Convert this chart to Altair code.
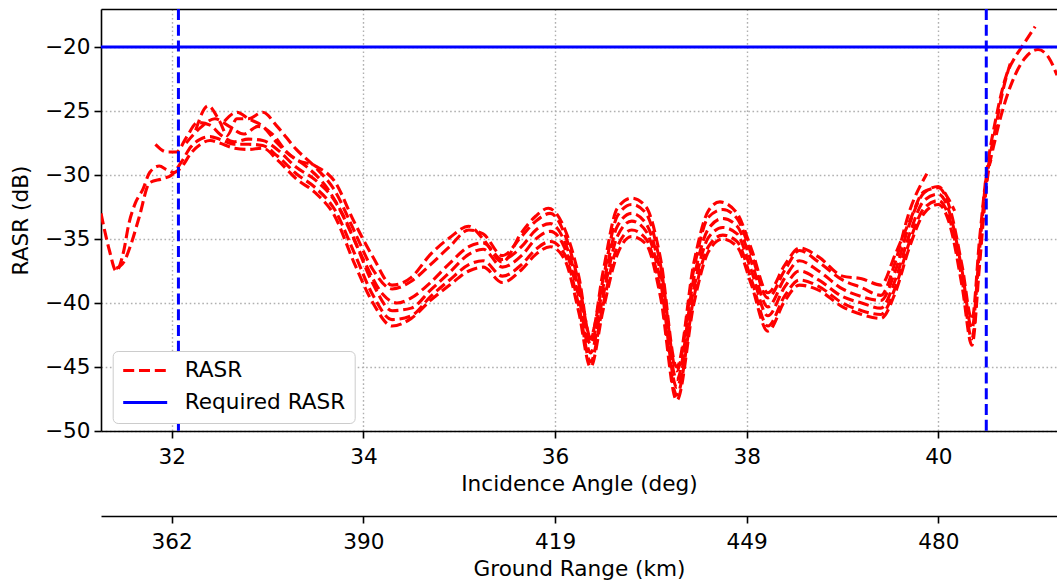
import altair as alt
import pandas as pd

# ---------------- data ----------------
INC_TICKS = [32, 34, 36, 38, 40]
GROUND_RANGE_LABELS = ["362", "390", "419", "449", "480"]
Y_TICKS = [-50, -45, -40, -35, -30, -25, -20]
X_DOMAIN = [31.262, 41.238]
Y_DOMAIN = [-50, -17.03]
REQUIRED_RASR = [-20]
SWATH_EDGES = [32.07, 40.5]

C1_X = [31.262, 31.35, 31.42, 31.5, 31.55, 31.62, 31.7, 31.77, 31.87, 31.95, 32.02, 32.1, 32.2, 32.3, 32.4,
        32.5, 32.65, 32.8, 32.95, 33.1, 33.3, 33.5, 33.7, 33.9, 34.1, 34.3, 34.5, 34.7, 34.9, 35.1, 35.25,
        35.45, 35.65, 35.8, 35.95, 36.1, 36.25, 36.37, 36.5, 36.65, 36.8, 36.95, 37.1, 37.27, 37.45, 37.6,
        37.75, 37.9, 38.05, 38.22, 38.4, 38.55, 38.75, 39.0, 39.2, 39.4, 39.55, 39.7, 39.85, 40.0, 40.12,
        40.25, 40.35, 40.43, 40.5, 40.6, 40.7, 40.8, 40.9, 41.04, 41.15, 41.238]
C1_Y = [-33.0, -35.9, -37.5, -35.9, -33.9, -32.2, -31.1, -29.8, -29.3, -29.6, -29.8, -29.4, -28.3, -27.6, -27.3,
        -27.5, -27.9, -28.0, -27.9, -28.8, -30.3, -31.4, -33.2, -36.8, -40.0, -41.8, -41.2, -39.8, -38.6, -37.5,
        -37.2, -38.4, -37.4, -36.2, -35.6, -36.6, -40.8, -45.0, -40.6, -36.2, -34.8, -35.4, -39.5, -47.6, -40.0,
        -36.0, -35.0, -35.6, -38.6, -42.2, -39.8, -38.6, -39.0, -40.3, -40.9, -41.2, -39.2, -35.6, -33.0, -32.3,
        -33.9, -38.8, -43.3, -37.0, -31.0, -27.0, -24.2, -22.2, -20.9, -20.2, -20.8, -22.2]

C2_X = [31.42, 31.5, 31.58, 31.66, 31.77, 31.9, 32.0, 32.1, 32.2, 32.3, 32.4, 32.5, 32.65, 32.8, 32.95, 33.1,
        33.3, 33.5, 33.7, 33.9, 34.1, 34.3, 34.5, 34.7, 34.9, 35.1, 35.25, 35.45, 35.65, 35.8, 35.95, 36.1,
        36.25, 36.37, 36.5, 36.65, 36.8, 36.95, 37.1, 37.27, 37.45, 37.6, 37.75, 37.9, 38.05, 38.22, 38.4,
        38.55, 38.75, 39.0, 39.2, 39.4, 39.55, 39.7, 39.85, 40.0, 40.12, 40.25, 40.35, 40.43, 40.5, 40.6,
        40.68, 40.75]
C2_Y = [-37.3, -36.8, -35.3, -33.3, -30.6, -30.3, -30.0, -29.0, -27.8, -27.2, -27.0, -27.2, -27.6, -27.6, -27.7,
        -28.5, -29.9, -31.0, -32.7, -36.0, -39.4, -41.3, -41.0, -39.5, -38.2, -37.0, -36.7, -37.9, -37.0, -35.8,
        -35.2, -36.2, -40.3, -44.6, -40.2, -35.6, -34.3, -35.0, -39.0, -47.2, -39.5, -35.6, -34.7, -35.2, -38.2,
        -41.8, -39.4, -38.2, -38.7, -40.0, -40.6, -40.9, -38.8, -35.2, -32.6, -32.0, -33.5, -38.3, -42.8, -36.4,
        -30.6, -26.2, -23.2, -21.3]

C3_X = [31.83, 31.95, 32.05, 32.15, 32.27, 32.4, 32.5, 32.65, 32.8, 32.95, 33.1, 33.3, 33.5, 33.7, 33.9, 34.1,
        34.3, 34.5, 34.7, 34.9, 35.1, 35.25, 35.45, 35.65, 35.8, 35.95, 36.1, 36.25, 36.37, 36.5, 36.65, 36.8,
        36.95, 37.1, 37.27, 37.45, 37.6, 37.75, 37.9, 38.05, 38.22, 38.4, 38.55, 38.75, 39.0, 39.2, 39.4,
        39.55, 39.7, 39.85, 40.0, 40.12, 40.25, 40.35, 40.43, 40.5, 40.55]
C3_Y = [-27.6, -28.2, -28.2, -27.1, -25.9, -26.1, -26.8, -27.4, -27.2, -27.3, -28.0, -29.4, -30.4, -32.0, -35.0,
        -38.5, -40.6, -40.4, -39.0, -37.6, -36.2, -35.8, -37.2, -36.3, -35.0, -34.4, -35.7, -39.6, -43.9, -39.5,
        -34.8, -33.6, -34.4, -38.3, -46.6, -38.8, -34.9, -34.1, -34.6, -37.5, -41.0, -38.7, -37.5, -38.2, -39.5,
        -40.0, -40.4, -38.2, -34.6, -32.0, -31.5, -33.0, -37.6, -42.0, -35.8, -30.2, -28.8]

C4_X = [32.15, 32.3, 32.45, 32.6, 32.75, 32.9, 33.05, 33.2, 33.4, 33.6, 33.8, 34.0, 34.2, 34.35, 34.5, 34.7,
        34.9, 35.1, 35.25, 35.45, 35.65, 35.8, 35.95, 36.1, 36.25, 36.37, 36.5, 36.65, 36.8, 36.95, 37.1,
        37.27, 37.45, 37.6, 37.75, 37.9, 38.05, 38.22, 38.4, 38.55, 38.75, 39.0, 39.2, 39.4, 39.55, 39.7,
        39.85, 40.0, 40.1, 40.17]
C4_Y = [-27.5, -26.3, -25.6, -26.2, -26.8, -26.2, -26.8, -28.2, -29.3, -30.8, -33.3, -36.6, -39.3, -40.0, -39.6,
        -38.4, -36.9, -35.6, -35.3, -36.6, -35.6, -34.3, -33.8, -35.2, -39.0, -43.2, -38.8, -34.0, -33.0, -33.8,
        -37.6, -46.0, -38.0, -34.2, -33.4, -34.0, -36.8, -40.3, -38.0, -36.7, -37.5, -38.9, -39.5, -39.8, -37.5,
        -33.8, -31.4, -30.9, -31.8, -32.8]

C5_X = [32.25, 32.38, 32.5, 32.58, 32.68, 32.8, 32.95, 33.1, 33.3, 33.5, 33.7, 33.9, 34.1, 34.3, 34.5, 34.7,
        34.9, 35.1, 35.25, 35.45, 35.65, 35.8, 35.95, 36.1, 36.25, 36.37, 36.5, 36.65, 36.8, 36.95, 37.1,
        37.27, 37.45, 37.6, 37.75, 37.9, 38.05, 38.22, 38.4, 38.55, 38.75, 39.0, 39.2, 39.4, 39.55, 39.7, 39.88]
C5_Y = [-26.5, -24.6, -25.8, -26.9, -25.6, -25.6, -25.1, -26.2, -28.0, -29.4, -31.2, -34.3, -37.4, -38.9, -38.3,
        -37.0, -35.6, -34.3, -34.6, -36.3, -34.8, -33.6, -33.0, -34.6, -38.5, -42.6, -38.2, -33.2, -32.3, -33.0,
        -37.0, -45.3, -37.3, -33.3, -32.7, -33.4, -36.2, -39.6, -37.4, -35.9, -36.8, -38.2, -38.8, -39.4, -36.8,
        -32.8, -29.9]

C6_X = [32.55, 32.68, 32.8, 32.95, 33.1, 33.3, 33.5, 33.7, 33.9, 34.1, 34.3, 34.5, 34.7, 34.9, 35.1, 35.25,
        35.45, 35.65, 35.8, 35.93, 36.1, 36.25, 36.37, 36.5, 36.65, 36.8, 36.95, 37.1, 37.27, 37.45, 37.6,
        37.72, 37.9, 38.05, 38.22, 38.4, 38.55, 38.75, 39.0, 39.2, 39.4, 39.55, 39.7, 39.85, 40.0, 40.12,
        40.25, 40.35, 40.43, 40.5, 40.6, 40.71, 40.8, 40.87, 41.01]
C6_Y = [-25.8, -25.1, -25.6, -26.2, -27.5, -28.8, -29.3, -30.5, -33.6, -36.4, -38.6, -38.0, -36.2, -34.9, -34.0,
        -35.0, -36.8, -34.5, -33.2, -32.6, -34.2, -38.0, -42.8, -37.6, -32.6, -31.8, -32.5, -36.5, -45.0, -36.8,
        -32.8, -32.1, -33.0, -35.8, -39.2, -37.0, -35.7, -36.4, -37.9, -38.1, -38.6, -36.2, -33.6, -31.3, -31.0,
        -32.6, -37.2, -41.3, -35.0, -30.0, -25.6, -22.2, -20.8, -20.0, -18.4]

CURVES = [("c1", C1_X, C1_Y), ("c2", C2_X, C2_Y), ("c3", C3_X, C3_Y),
          ("c4", C4_X, C4_Y), ("c5", C5_X, C5_Y), ("c6", C6_X, C6_Y)]

rows = []
for name, xs, ys in CURVES:
    for xv, yv in zip(xs, ys, strict=True):
        rows.append({"angle": xv, "rasr": yv, "curve": name, "kind": "RASR"})
rasr_df = pd.DataFrame(rows)
req_df = pd.DataFrame({"rasr": REQUIRED_RASR, "kind": ["Required RASR"] * len(REQUIRED_RASR)})
edge_df = pd.DataFrame({"angle": SWATH_EDGES})
tick_df = pd.DataFrame({"angle": INC_TICKS})

# ---------------- chart ----------------
FONT = "DejaVu Sans"
FS = 21.6
DASH = [11, 4.8]

kind_domain = ["RASR", "Required RASR"]
color_scale = alt.Scale(domain=kind_domain, range=["#ff0000", "#0000ff"])
dash_scale = alt.Scale(domain=kind_domain, range=[DASH, [1, 0]])
legend = alt.Legend(title=None, orient="none", legendX=11.7, legendY=342,
                    symbolType="stroke", symbolSize=1936, symbolStrokeWidth=3,
                    clipHeight=21, rowPadding=9, labelOffset=16, labelFontSize=FS,
                    labelFont=FONT, labelColor="black", labelLimit=400, padding=9,
                    strokeColor="#cccccc", fillColor="white", cornerRadius=5)

x_scale = alt.Scale(domain=X_DOMAIN, nice=False, zero=False)
y_scale = alt.Scale(domain=Y_DOMAIN, nice=False, zero=False)


def y_axis():
    return alt.Axis(title="RASR (dB)", values=Y_TICKS, grid=True, format="d",
                    labelPadding=4, titlePadding=12)


gr_expr = " : ".join(f"datum.value == {t} ? '{lab}'" for t, lab in zip(INC_TICKS, GROUND_RANGE_LABELS)) + " : ''"

lines = alt.Chart(rasr_df).mark_line(strokeWidth=3.1, interpolate="monotone", clip=True).encode(
    x=alt.X("angle:Q", scale=x_scale,
            axis=alt.Axis(title="Incidence Angle (deg)", values=INC_TICKS, grid=True, orient="bottom",
                          format="d", labelPadding=8, titlePadding=6)),
    y=alt.Y("rasr:Q", scale=y_scale, axis=y_axis()),
    color=alt.Color("kind:N", scale=color_scale, legend=legend),
    strokeDash=alt.StrokeDash("kind:N", scale=dash_scale, legend=legend),
    detail="curve:N",
)

req_line = alt.Chart(req_df).mark_rule(strokeWidth=3).encode(
    y=alt.Y("rasr:Q", scale=y_scale, axis=y_axis()),
    color=alt.Color("kind:N", scale=color_scale, legend=legend),
    strokeDash=alt.StrokeDash("kind:N", scale=dash_scale, legend=legend),
)

edges = alt.Chart(edge_df).mark_rule(strokeWidth=3, color="#0000ff", strokeDash=DASH).encode(
    x=alt.X("angle:Q", scale=x_scale,
            axis=alt.Axis(orient="top", labels=False, ticks=False, title=None, grid=False)),
)

ground_axis = alt.Chart(tick_df).mark_rule(opacity=0).encode(
    x=alt.X("angle:Q", scale=x_scale,
            axis=alt.Axis(orient="bottom", offset=85, values=INC_TICKS, labelExpr=gr_expr,
                          title="Ground Range (km)", grid=False, labelPadding=8, titlePadding=6)),
)

chart = alt.layer(lines, req_line, edges, ground_axis).resolve_axis(x="independent").properties(
    width=956, height=422,
    autosize=alt.AutoSizeParams(type="none"),
    padding={"left": 101, "top": 9, "right": 0, "bottom": 154},
    background="white",
).configure_view(stroke=None).configure_axis(
    labelFont=FONT, labelFontSize=FS, titleFont=FONT, titleFontSize=FS, titleFontWeight="normal",
    labelColor="black", titleColor="black", domainColor="black", domainWidth=1.6,
    tickColor="black", tickWidth=1.6, tickSize=7,
    gridColor="#b0b0b0", gridDash=[1.6, 2.6], gridWidth=1.4, labelFlush=False,
).configure_legend(labelFont=FONT)

chart.save("out.html", embed_options={"renderer": "svg", "actions": False})
